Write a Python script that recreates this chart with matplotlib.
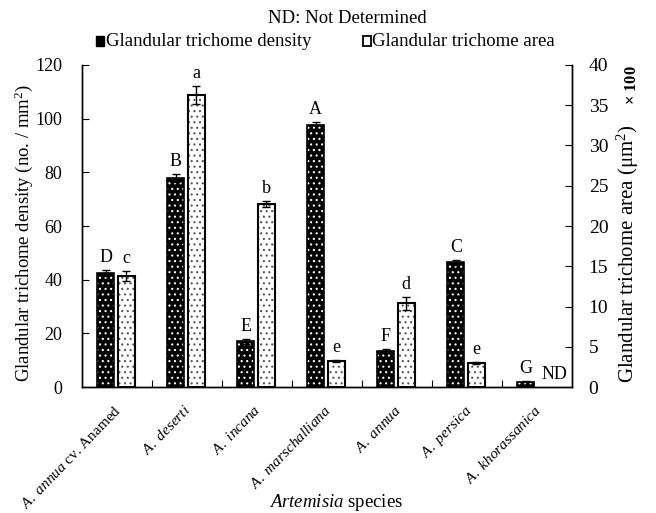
import matplotlib
matplotlib.use("Agg")
import matplotlib.pyplot as plt
from matplotlib.patches import Rectangle
import numpy as np

plt.rcParams['font.family'] = ['Liberation Serif', 'DejaVu Serif']
plt.rcParams['mathtext.fontset'] = 'custom'
plt.rcParams['mathtext.rm'] = 'Liberation Serif'
plt.rcParams['mathtext.it'] = 'Liberation Serif:italic'
plt.rcParams['mathtext.bf'] = 'Liberation Serif:bold'
plt.rcParams['hatch.linewidth'] = 0.8

species = [r"$\mathit{A.\ annua}$ cv. Anamed", r"$\mathit{A.\ deserti}$", r"$\mathit{A.\ incana}$",
           r"$\mathit{A.\ marschalliana}$", r"$\mathit{A.\ annua}$", r"$\mathit{A.\ persica}$",
           r"$\mathit{A.\ khorassanica}$"]
density = [42.5, 78.0, 17.0, 97.5, 13.5, 46.5, 2.0]
density_err = [1.0, 1.5, 1.0, 1.2, 0.5, 1.0, 0.3]
density_letters = ["D", "B", "E", "A", "F", "C", "G"]
area = [13.8, 36.3, 22.7, 3.2, 10.4, 3.0, 0.0]
area_err = [0.6, 1.1, 0.4, 0.1, 0.8, 0.1, 0.0]
area_letters = ["c", "a", "b", "e", "d", "e", "ND"]

fig = plt.figure(figsize=(6.56, 5.13), dpi=100)
ax = fig.add_axes([0.125, 0.2456, 0.747, 0.6277])
ax2 = ax.twinx()

x = np.arange(len(species))
w = 0.245
xd = x - 0.16
xa = x + 0.13

# density bars: black with white dots
ax.bar(xd, density, w, color='black', edgecolor='white', hatch='...', linewidth=0, zorder=2)
ax.bar(xd, density, w, fill=False, edgecolor='black', linewidth=1.2, zorder=3)
ax.errorbar(xd, density, yerr=density_err, fmt='none', ecolor='black', capsize=3, elinewidth=1, capthick=1, zorder=4)
for xi, v, e, t in zip(xd, density, density_err, density_letters):
    ax.text(xi, v + e + 1.5, t, ha='center', va='bottom', fontsize=13)

# area bars: white with black dots
mask = [v > 0 for v in area]
xa_m = [xi for xi, m in zip(xa, mask) if m]
area_m = [v for v, m in zip(area, mask) if m]
err_m = [v for v, m in zip(area_err, mask) if m]
ax2.bar(xa_m, area_m, w, color='white', edgecolor='#555555', hatch='...', linewidth=0, zorder=2)
ax2.bar(xa_m, area_m, w, fill=False, edgecolor='black', linewidth=1.5, zorder=3)
ax2.errorbar(xa_m, area_m, yerr=err_m, fmt='none', ecolor='black', capsize=3, elinewidth=1, capthick=1, zorder=4)
for xi, v, e, t in zip(xa, area, area_err, area_letters):
    ax2.text(xi + (0.12 if t == "ND" else 0), v + e + 0.5, t, ha='center', va='bottom', fontsize=13)

ax.set_xlim(-0.5, 6.5)
ax.set_ylim(0, 120)
ax2.set_ylim(0, 40)
ax.set_yticks(np.arange(0, 121, 20))
ax2.set_yticks(np.arange(0, 41, 5))
ax.set_xticks(np.arange(0.5, 6.5, 1))
ax.set_xticklabels([])
ax.tick_params(axis='x', direction='in', length=5)
ax.tick_params(axis='y', direction='in', length=5, labelsize=13, pad=14)
ax2.tick_params(axis='y', direction='in', length=5, labelsize=14, pad=12)
for a in (ax, ax2):
    a.spines['top'].set_visible(False)
    for s in a.spines.values():
        s.set_linewidth(1.0)

# species labels (rotated)
for xi, s in zip(x, species):
    ax.text(xi - 0.05, -0.05, s, transform=ax.get_xaxis_transform(), rotation=46,
            ha='right', va='top', fontsize=11, rotation_mode='anchor')

fig.text(0.036, 0.546, "Glandular trichome density (no. / mm$^2$)", rotation=90,
         ha='center', va='center', fontsize=13.5)
fig.text(0.957, 0.505, r"Glandular trichome area ($\mathrm{\mu}$m$^2$)", rotation=90,
         ha='center', va='center', fontsize=15)
fig.text(0.963, 0.834, r"× $\mathbf{100}$", rotation=90, ha='center', va='center', fontsize=12,
         fontweight='bold')
fig.text(0.512, 0.0, r"$\mathit{Artemisia}$ species", ha='center', va='bottom', fontsize=13.5)

# legend / header
fig.text(0.529, 0.963, "ND: Not Determined", ha='center', va='center', fontsize=13.5)
fig.patches.append(Rectangle((0.146, 0.911), 0.012, 0.018, transform=fig.transFigure,
                             facecolor='black', edgecolor='black', lw=1))
fig.text(0.162, 0.92, "Glandular trichome density", ha='left', va='center', fontsize=13.5)
fig.patches.append(Rectangle((0.553, 0.911), 0.012, 0.018, transform=fig.transFigure,
                             facecolor='white', edgecolor='black', lw=1.3))
fig.text(0.567, 0.92, "Glandular trichome area", ha='left', va='center', fontsize=13.5)

fig.savefig("out.png", dpi=100)
